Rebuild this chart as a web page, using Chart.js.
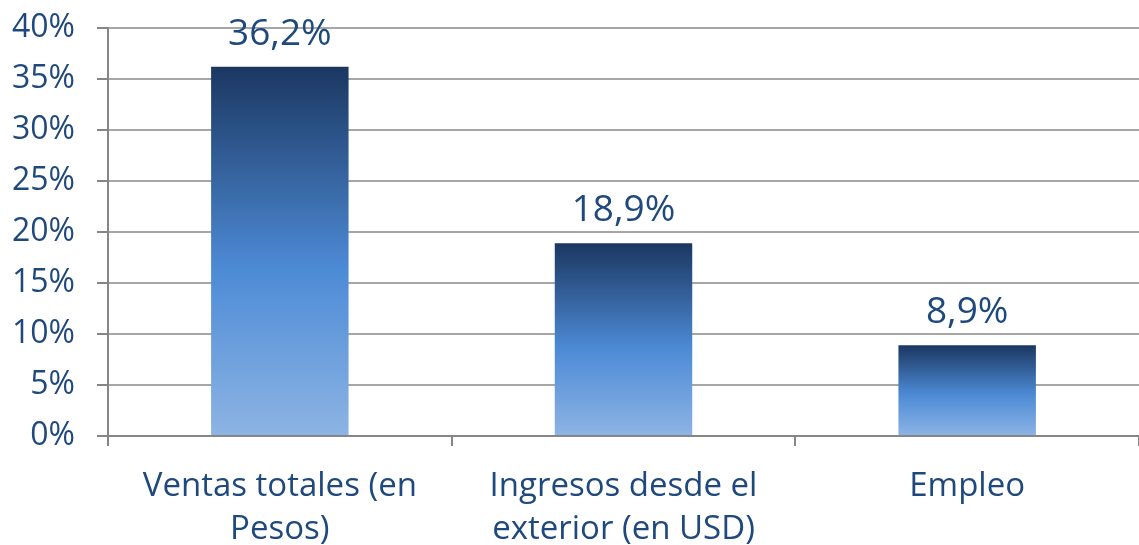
<!DOCTYPE html>
<html>
<head>
<meta charset="utf-8">
<script src="https://cdn.jsdelivr.net/npm/chart.js@4.4.0/dist/chart.umd.min.js"></script>
<style>
    html, body { margin: 0; padding: 0; background: #ffffff; }
    #wrap { width: 1139px; height: 545px; }
</style>
</head>
<body>
<div id="wrap"><canvas id="barChart" width="1139" height="545"></canvas></div>
<script>
const categories = [
    ["Ventas totales (en", "Pesos)"],
    ["Ingresos desde el", "exterior (en USD)"],
    ["Empleo"],
];
const values = [36.2, 18.9, 8.9];
const yTicks = [0, 5, 10, 15, 20, 25, 30, 35, 40];

const textColor = "#1f497d";
const fontFamily = "'Open Sans', Lato, sans-serif";

const barGradient = (context) => {
    const chart = context.chart;
    const { chartArea, scales } = chart;
    if (!chartArea) return "#4f8ed6";
    const v = context.raw;
    const top = scales.y.getPixelForValue(v);
    const bottom = scales.y.getPixelForValue(0);
    const g = chart.ctx.createLinearGradient(0, top, 0, bottom);
    g.addColorStop(0, "#1b3761");
    g.addColorStop(0.55, "#4d8bd6");
    g.addColorStop(1, "#8db4e4");
    return g;
};

const valueLabels = {
    id: "valueLabels",
    afterDatasetsDraw: (chart) => {
        const { ctx } = chart;
        const meta = chart.getDatasetMeta(0);
        ctx.save();
        ctx.font = "37px " + fontFamily;
        ctx.fillStyle = textColor;
        ctx.textAlign = "center";
        ctx.textBaseline = "alphabetic";
        meta.data.forEach((bar, i) => {
            const txt = values[i].toFixed(1).replace(".", ",") + "%";
            ctx.fillText(txt, bar.x, bar.y - 22);
        });
        ctx.restore();
    },
};

const ctx = document.getElementById("barChart").getContext("2d");
const barChart = new Chart(ctx, {
    type: "bar",
    data: {
        labels: categories,
        datasets: [
            {
                data: values,
                backgroundColor: barGradient,
                borderWidth: 0,
                barPercentage: 0.4,
                categoryPercentage: 1,
            },
        ],
    },
    options: {
        responsive: false,
        animation: false,
        layout: {
            padding: { top: 28, right: 0, bottom: 0, left: 0 },
        },
        plugins: {
            legend: { display: false },
            tooltip: { enabled: false },
        },
        scales: {
            x: {
                grid: {
                    display: true,
                    offset: true,
                    drawOnChartArea: false,
                    drawTicks: true,
                    tickLength: 10,
                    color: "#868686",
                    lineWidth: 2,
                },
                border: { color: "#868686", width: 2 },
                ticks: {
                    color: textColor,
                    font: { family: fontFamily, size: 33, lineHeight: 1.3 },
                    padding: 19,
                    maxRotation: 0,
                },
                afterFit: (scale) => {
                    scale.height = 109;
                    scale.paddingLeft = 0;
                    scale.paddingRight = 0;
                },
            },
            y: {
                min: 0,
                max: 40,
                afterBuildTicks: (scale) => {
                    scale.ticks = yTicks.map((v) => ({ value: v }));
                },
                grid: {
                    color: "#a6a6a6",
                    lineWidth: 2,
                    tickLength: 11,
                    tickColor: "#868686",
                },
                border: { color: "#868686", width: 2 },
                ticks: {
                    color: textColor,
                    font: { family: fontFamily, size: 32 },
                    padding: 22,
                    callback: (v) => v + "%",
                },
                afterFit: (scale) => {
                    scale.width = 108;
                    scale.paddingTop = 0;
                    scale.paddingBottom = 0;
                },
            },
        },
    },
    plugins: [valueLabels],
});
</script>
</body>
</html>
